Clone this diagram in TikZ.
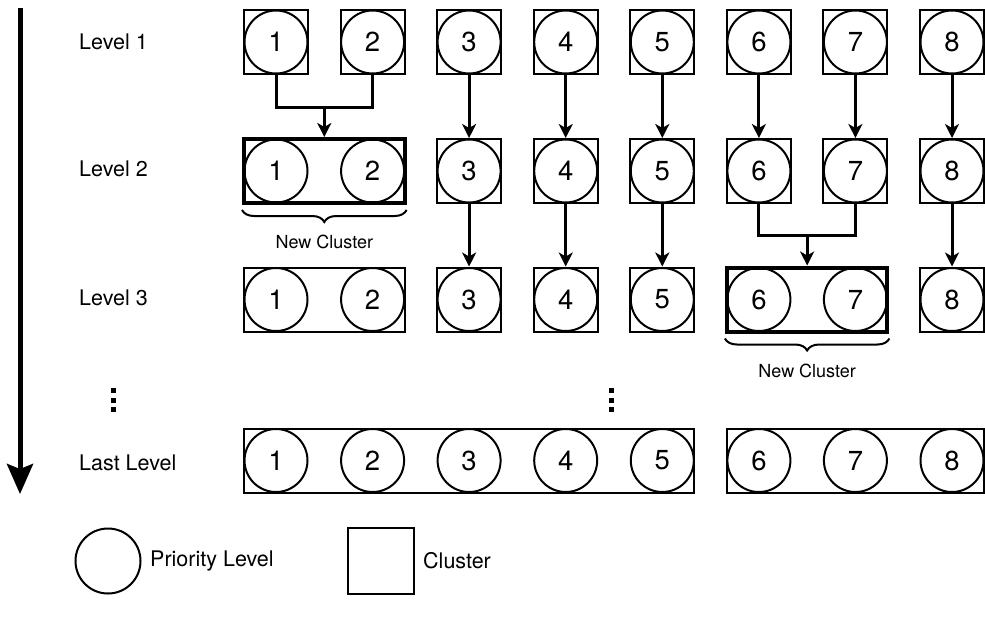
\documentclass[tikz,border=0pt]{standalone}
\usepackage{fontspec}
\setmainfont{TeX Gyre Heros}
\usetikzlibrary{arrows.meta,decorations.pathreplacing,calc}
\begin{document}
\begin{tikzpicture}[x=1pt,y=-1pt,
  prio/.style={circle, draw, line width=2pt, minimum size=63pt, inner sep=0pt, font=\fontsize{27.5}{30}\selectfont},
  clus/.style={draw, line width=2pt, minimum height=64pt, inner sep=0pt},
  single/.style={clus, minimum width=64pt},
  newclus/.style={line width=4pt},
  conn/.style={line width=3pt},
  flow/.style={conn, -{Stealth[length=14pt,width=14pt,inset=4pt]}},
  lvl/.style={anchor=west, inner sep=0pt, font=\fontsize{21.5}{24}\selectfont},
  note/.style={font=\fontsize{18}{20}\selectfont},
  bracestyle/.style={line width=2pt, decorate, decoration={brace, mirror, amplitude=12pt}},
  bigarrow/.style={line width=5pt, -{Stealth[length=30pt,width=26pt,inset=5pt]}}
]
\useasboundingbox (0,0) rectangle (985,625);

% ---------- Level 1 ----------
\foreach \x [count=\i] in {276,372.6,469.1,565.7,662.3,758.9,855.4,952} {
  \node[single] (b1-\i) at (\x,42) {};
  \node[prio] (p1-\i) at (\x,42) {\i};
}

% ---------- Level 2 ----------
\node[clus, newclus, minimum width=160.6pt] (b2-12) at (324.3,171) {};
\foreach \x [count=\i from 3] in {469.1,565.7,662.3,758.9,855.4,952} {
  \node[single] (b2-\i) at (\x,171) {};
}
\foreach \x [count=\i] in {276,372.6,469.1,565.7,662.3,758.9,855.4,952} {
  \node[prio] (p2-\i) at (\x,171) {\i};
}

% ---------- Level 3 ----------
\node[clus, minimum width=160.6pt] (b3-12) at (324.3,299.5) {};
\foreach \x [count=\i from 3] in {469.1,565.7,662.3} {
  \node[single] (b3-\i) at (\x,299.5) {};
}
\node[clus, newclus, minimum width=160.5pt] (b3-67) at (807.15,299.5) {};
\node[single] (b3-8) at (952,299.5) {};
\foreach \x [count=\i] in {276,372.6,469.1,565.7,662.3,758.9,855.4,952} {
  \node[prio] (p3-\i) at (\x,299.5) {\i};
}

% ---------- Last level ----------
\node[clus, minimum width=450.3pt] (b4-a) at (469.15,460.5) {};
\node[clus, minimum width=257.1pt] (b4-b) at (855.45,460.5) {};
\foreach \x [count=\i] in {276,372.6,469.1,565.7,662.3,758.9,855.4,952} {
  \node[prio] (p4-\i) at (\x,460.5) {\i};
}

% ---------- connectors level 1 -> 2 ----------
\coordinate (m12) at (324.3,107);
\draw[conn] (b1-1.south) |- (m12) -| (b1-2.south);
\draw[flow] (m12) -- (b2-12.north);
\foreach \i in {3,...,8} {
  \draw[flow] (b1-\i.south) -- (b2-\i.north);
}

% ---------- connectors level 2 -> 3 ----------
\foreach \i in {3,4,5,8} {
  \draw[flow] (b2-\i.south) -- (b3-\i.north);
}
\coordinate (m67) at (807.15,235);
\draw[conn] (b2-6.south) |- (m67) -| (b2-7.south);
\draw[flow] (m67) -- (b3-67.north);

% ---------- braces ----------
\draw[bracestyle] ([yshift=-5pt]b2-12.south west) -- ([yshift=-5pt]b2-12.south east);
\node[note] (nc1) at ($(b2-12.south)+(0,37)$) {New Cluster};
\draw[bracestyle] ([yshift=-5pt]b3-67.south west) -- ([yshift=-5pt]b3-67.south east);
\node[note] (nc2) at ($(b3-67.south)+(0,37)$) {New Cluster};

% ---------- level labels ----------
\node[lvl] (l1) at (79,42) {Level 1};
\node[lvl] (l2) at (79,169) {Level 2};
\node[lvl] (l3) at (79,298) {Level 3};
\node[lvl] (l4) at (79,463) {Last Level};

% ---------- big arrow ----------
\coordinate (at) at (20,8);
\coordinate (ab) at (20,494);
\draw[bigarrow] (at) -- (ab);

% ---------- vertical dots ----------
\foreach \y in {390.5,400,409.5} {
  \fill (110.5,\y-2.5) rectangle ++(5,5);
  \fill (608.5,\y-2.5) rectangle ++(5,5);
}

% ---------- legend ----------
\node[prio, minimum size=65pt] (lp) at (108,561) {};
\node[lvl] (lpt) at (150,561) {Priority Level};
\node[clus, minimum width=66pt, minimum height=66pt] (lc) at (381,561) {};
\node[lvl] (lct) at (423,561) {Cluster};
\end{tikzpicture}
\end{document}
